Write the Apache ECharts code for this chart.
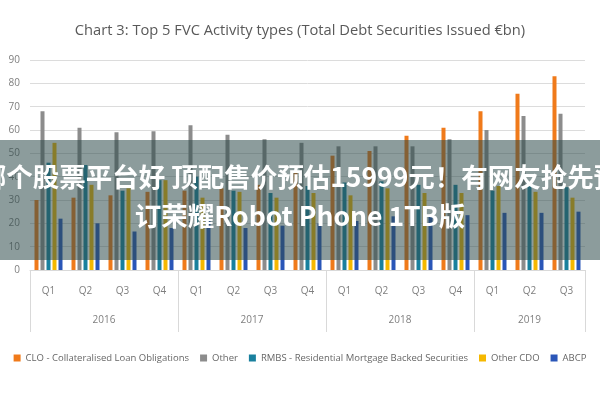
<!DOCTYPE html>
<html>
<head>
<meta charset="utf-8">
<script src="https://cdn.jsdelivr.net/npm/echarts@6/dist/echarts.min.js"></script>
<style>
  html, body { margin: 0; padding: 0; background: #fff; }
  #chart { width: 600px; height: 400px; }
</style>
</head>
<body>
<div id="chart"></div>
<script>
// quarters and years (hierarchical x axis)
const quarters = ['Q1', 'Q2', 'Q3', 'Q4', 'Q1', 'Q2', 'Q3', 'Q4', 'Q1', 'Q2', 'Q3', 'Q4', 'Q1', 'Q2', 'Q3'];
const years = ['2016', '2017', '2018', '2019'];
const yearQuarterCounts = [4, 4, 4, 3];

// series values, €bn
const cloValues = [30, 31, 32, 33.5, 34, 35, 36.5, 42, 49, 51, 57.5, 61, 68, 75.5, 83];
const otherValues = [68, 61, 59, 59.5, 62, 58, 56, 54.5, 53, 53, 53, 56, 60, 66, 67];
const rmbsValues = [46, 45, 34, 38.5, 40, 34, 33, 36, 37.5, 38, 36.5, 36.5, 34, 36.5, 35.5];
const otherCdoValues = [54.5, 36.5, 35, 38.5, 31, 33.5, 31, 33, 32, 35, 33, 33, 36, 33.5, 31];
const abcpValues = [22, 20, 16.5, 18, 21, 18, 19, 20, 21, 23, 23.5, 23.5, 24.5, 24.5, 25];

const seriesNames = [
    'CLO - Collateralised Loan Obligations',
    'Other',
    'RMBS - Residential Mortgage Backed Securities',
    'Other CDO',
    'ABCP'
];
const seriesColors = ['#f07a1a', '#8c8c8c', '#19809e', '#f5b800', '#2a56b8'];
const seriesValues = [cloValues, otherValues, rmbsValues, otherCdoValues, abcpValues];

// year axis: half-quarter slots, labels in the middle of each year, ticks at year edges
const yearSlots = [];
const yearEdges = [0];
let pos = 0;
yearQuarterCounts.forEach((n, i) => {
    for (let k = 0; k < n * 2; k++) yearSlots.push('');
    yearSlots[pos + n] = years[i];
    pos += n * 2;
    yearEdges.push(pos);
});
yearSlots.push('');

const font = '"Open Sans", sans-serif';

const chart = echarts.init(document.getElementById('chart'));
chart.setOption({
    animation: false,
    title: {
        text: 'Chart 3: Top 5 FVC Activity types (Total Debt Securities Issued €bn)',
        left: 'center',
        top: 18,
        textStyle: { fontFamily: font, fontSize: 14.7, fontWeight: 'normal', color: '#595959' }
    },
    legend: {
        bottom: 32,
        left: 'center',
        width: 600,
        itemWidth: 7,
        itemHeight: 7,
        itemGap: 11,
        icon: 'rect',
        textStyle: { fontFamily: font, fontSize: 9.5, color: '#666' },
        data: seriesNames
    },
    grid: { left: 30, right: 15, top: 60, bottom: 130 },
    xAxis: [
        {
            type: 'category',
            data: quarters,
            axisLine: { lineStyle: { color: '#d9d9d9' } },
            axisTick: { length: 31, lineStyle: { color: '#d9d9d9' } },
            axisLabel: { margin: 16, fontFamily: font, fontSize: 10, color: '#7f7f7f' }
        },
        {
            type: 'category',
            position: 'bottom',
            boundaryGap: false,
            data: yearSlots,
            axisLine: { show: false },
            axisTick: {
                length: 62,
                interval: (idx) => yearEdges.includes(idx),
                lineStyle: { color: '#d9d9d9' }
            },
            axisLabel: { interval: 0, margin: 45, fontFamily: font, fontSize: 10, color: '#7f7f7f' }
        }
    ],
    yAxis: {
        type: 'value',
        min: 0,
        max: 90,
        interval: 10,
        axisLine: { show: false },
        axisTick: { show: false },
        axisLabel: { margin: 10, fontFamily: font, fontSize: 10, color: '#7f7f7f' },
        splitLine: { lineStyle: { color: '#dcdcdc' } }
    },
    series: seriesNames.map((name, i) => ({
        name,
        type: 'bar',
        xAxisIndex: 0,
        data: seriesValues[i],
        barWidth: 4,
        barGap: '50%',
        itemStyle: { color: seriesColors[i] }
    })),
    graphic: [
        {
            type: 'rect',
            left: 0,
            top: 140,
            z: 100,
            shape: { width: 600, height: 120 },
            style: { fill: 'rgba(45,75,75,0.55)' }
        },
        {
            type: 'text',
            left: 'center',
            top: 164,
            z: 101,
            style: {
                text: '哪个股票平台好 顶配售价预估15999元！有网友抢先预',
                fill: '#fff',
                font: 'bold 26.5px "Noto Sans CJK SC", sans-serif'
            }
        },
        {
            type: 'text',
            left: 'center',
            top: 203,
            z: 101,
            style: {
                text: '订荣耀Robot Phone 1TB版',
                fill: '#fff',
                font: 'bold 26.5px "Noto Sans CJK SC", sans-serif'
            }
        }
    ]
});
</script>
</body>
</html>
